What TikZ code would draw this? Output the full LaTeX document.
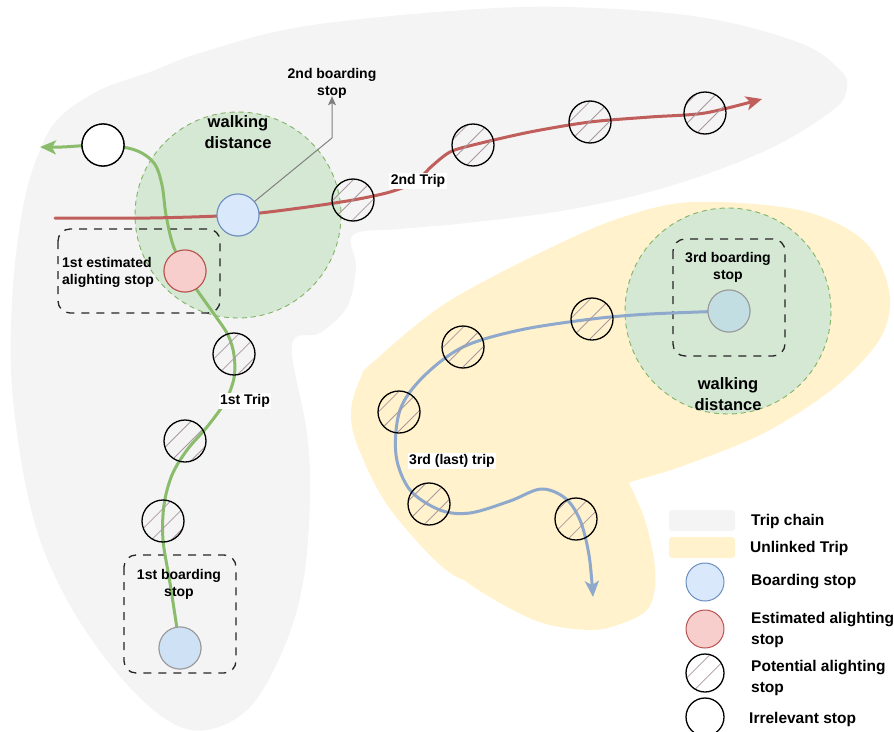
\documentclass[tikz,border=0pt]{standalone}
\usepackage{fontspec}
\setmainfont{Liberation Sans}
\usetikzlibrary{arrows.meta,patterns.meta}
\definecolor{chaingrey}{HTML}{F4F4F4}
\definecolor{tripyellow}{HTML}{FFF2CC}
\definecolor{walkfill}{HTML}{D5E8D4}
\definecolor{walkdraw}{HTML}{82B366}
\definecolor{bluefill}{HTML}{DAE8FC}
\definecolor{bluedraw}{HTML}{6C8EBF}
\definecolor{redfill}{HTML}{F8CECC}
\definecolor{reddraw}{HTML}{B85450}
\definecolor{hatchcol}{HTML}{A8979F}
\definecolor{greentrip}{HTML}{8ABC6C}
\definecolor{redtrip}{HTML}{BF5E5A}
\definecolor{bluetrip}{HTML}{8EA9CC}
\definecolor{firstfill}{HTML}{CFE2F5}
\definecolor{thirdfill}{HTML}{C3DEE2}
\pgfdeclarelayer{regions}
\pgfdeclarelayer{trips}
\pgfsetlayers{regions,trips,main}
\begin{document}
\begin{tikzpicture}[x=1pt,y=-1pt,
  stopbase/.style={circle, minimum size=42pt, inner sep=0pt, line width=1.3pt},
  hatched/.style={stopbase, draw=black,
    pattern={Lines[angle=45,distance=14pt,line width=0.8pt]}, pattern color=hatchcol},
  irrelevant/.style={stopbase, draw=black, fill=white},
  boarding/.style={stopbase, draw=bluedraw, fill=bluefill, line width=1pt},
  alighting/.style={stopbase, draw=reddraw, fill=redfill, line width=1pt},
  walkzone/.style={fill=walkfill, draw=walkdraw, line width=0.9pt, dash pattern=on 5pt off 4pt},
  dbox/.style={draw=black!85, line width=1.3pt, dash pattern=on 8pt off 7pt, rounded corners=12pt},
  tripline/.style={line width=3pt, line cap=round,
    -{Stealth[length=16pt,width=14pt,inset=4pt]}},
  lbl/.style={font=\fontsize{14}{17}\selectfont\bfseries, align=center, inner sep=1pt},
  biglbl/.style={font=\fontsize{16.5}{21}\selectfont\bfseries, align=center, inner sep=1pt},
  triplbl/.style={lbl, fill=white, inner sep=1.5pt},
  legtext/.style={font=\fontsize{15.5}{21}\selectfont\bfseries, align=left, anchor=west, inner sep=0pt},
  legstop/.style={minimum size=38pt}
]
\useasboundingbox (0,0) rectangle (894,731);

\begin{pgfonlayer}{regions}
  % trip chain region
  \fill[chaingrey] plot[smooth cycle, tension=0.6] coordinates {
    (12,300) (23,207) (40,150) (60,117) (100,90) (150,72) (200,53) (300,27)
    (450,11) (567,7) (700,17) (800,43) (840,70) (847,88) (833,110) (767,150)
    (667,187) (567,210) (467,223) (400,229) (353,235) (356,267) (347,307)
    (320,333) (292,345) (307,433) (310,500) (303,583) (283,650) (250,707)
    (207,730) (167,720) (117,673) (67,600) (33,517) (13,400)};
  % unlinked trip region: main body and lower lobe
  \fill[tripyellow] plot[smooth cycle, tension=0.55] coordinates {
    (693,202) (799,210) (863,240) (889,290) (881,337) (835,387) (764,433)
    (680,467) (610,490) (520,540) (464,580) (393,513)
    (358,447) (351,410) (361,377) (372,363) (446,303) (552,247) (623,217)};
  \fill[tripyellow] plot[smooth cycle, tension=0.55] coordinates {
    (615,470) (640,507) (653,553) (655,587) (647,610) (623,623) (590,630)
    (534,620) (464,580) (430,540) (480,500) (560,480)};
  % walking distance zones
  \draw[walkzone] (238,215) circle[radius=103];
  \draw[walkzone] (728,311) circle[radius=103];
  % stop groups
  \draw[dbox] (58,229) rectangle (220,313);
  \draw[dbox] (673,239) rectangle (785,356);
  \draw[dbox] (124,555) rectangle (236,673);
\end{pgfonlayer}

% stops of the 1st trip
\node[boarding, draw=black!40, fill=firstfill] (s1) at (180,648) {};
\node[hatched] (h1) at (163,521) {};
\node[hatched] (h2) at (185,441) {};
\node[hatched] (h3) at (234,354) {};
\node[alighting] (er) at (185,271) {};
\node[irrelevant] (w) at (103,145) {};
% stops of the 2nd trip
\node[boarding] (s2) at (238,215) {};
\node[hatched] (h4) at (353,200) {};
\node[hatched] (h5) at (473,145) {};
\node[hatched] (h6) at (590,122) {};
\node[hatched] (h7) at (705,113) {};
% stops of the 3rd trip
\node[boarding, draw=black!40, fill=thirdfill] (s3) at (729,311) {};
\node[hatched] (h8) at (592,319) {};
\node[hatched] (h9) at (463,347) {};
\node[hatched] (h10) at (399,412) {};
\node[hatched] (h11) at (429,504) {};
\node[hatched] (h12) at (576,519) {};

\coordinate (gend) at (40,147);
\coordinate (rstart) at (55,218);
\coordinate (rend) at (762,99);
\coordinate (bend3) at (593,597);

\begin{pgfonlayer}{trips}
  % 1st trip
  \draw[tripline, greentrip] plot[smooth, tension=0.55] coordinates {
    (s1.center) (170,583) (163,540) (164,505) (172,475) (187,450) (207,427)
    (225,402) (234,378) (234,355) (228,335) (214,314) (197,290) (er.center)
    (173,245) (166,215) (162,185) (154,163) (135,150) (w.center) (62,147) (gend)};
  % 2nd trip
  \draw[tripline, redtrip] plot[smooth, tension=0.5] coordinates {
    (rstart) (150,218) (s2.center) (300,208) (h4.center) (390,192) (415,182)
    (432,166) (450,152) (h5.center) (530,132) (h6.center) (650,117)
    (h7.center) (rend)};
  % 3rd trip
  \draw[tripline, bluetrip] plot[smooth, tension=0.55] coordinates {
    (s3.center) (650,314) (h8.center) (520,330) (h9.center) (423,377)
    (400,410) (396,455) (410,490) (440,510) (470,513) (510,501) (541,489)
    (565,498) (580,520) (589,555) (bend3)};
\end{pgfonlayer}

% opaque stops drawn again over the trip lines
\node[boarding, draw=black!40, fill=firstfill] at (s1) {};
\node[alighting] at (er) {};
\node[irrelevant] at (w) {};
\node[boarding] at (s2) {};
\node[boarding, draw=black!40, fill=thirdfill] at (s3) {};

% labels
\node[lbl] (lb2) at (332,83) {2nd boarding\\stop};
\coordinate (gbend) at (332,138);
\draw[black!50, line width=1pt, -{Stealth[length=9pt,width=8pt,inset=2pt]}]
  (s2) -- (gbend) -- ([yshift=3pt]lb2.south);
\node[biglbl] (wd1) at (238,132) {walking\\distance};
\node[biglbl] (wd3) at (728,394) {walking\\distance};
\node[triplbl] (t2) at (418,181) {2nd Trip};
\node[triplbl] (t1) at (245,401) {1st Trip};
\node[triplbl] (t3) at (452,461) {3rd (last) trip};
\node[lbl, align=left, anchor=west] (lbe) at (61,272) {1st estimated\\alighting stop};
\node[lbl] (lbb1) at (179,584) {1st boarding\\stop};
\node[lbl] (lbb3) at (728,267) {3rd boarding\\stop};

% legend
\fill[chaingrey, rounded corners=3pt] (669,510) rectangle (735,531);
\fill[tripyellow, rounded corners=3pt] (669,537) rectangle (735,558);
\node[boarding, legstop] (lg1) at (705,582) {};
\node[alighting, legstop] (lg2) at (705,629) {};
\node[hatched, legstop] (lg3) at (705,673) {};
\node[irrelevant, legstop] (lg4) at (705,717) {};
\node[legtext] (lt0) at (751,521) {Trip chain};
\node[legtext] (lt1) at (750,548) {Unlinked Trip};
\node[legtext] (lt2) at (751,582) {Boarding stop};
\node[legtext] (lt3) at (751,630) {Estimated alighting\\stop};
\node[legtext] (lt4) at (751,678) {Potential alighting\\stop};
\node[legtext] (lt5) at (749,719) {Irrelevant stop};
\end{tikzpicture}
\end{document}
